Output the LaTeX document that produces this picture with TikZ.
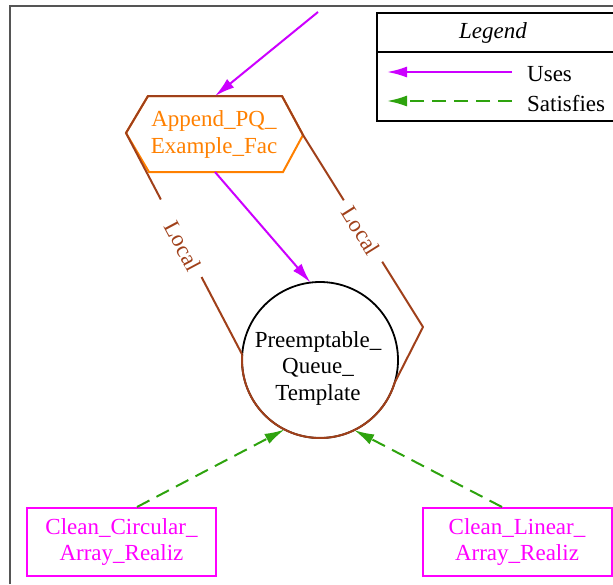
\documentclass[tikz,border=0pt]{standalone}
\usepackage{fontspec}
\setmainfont{Liberation Serif}
\usetikzlibrary{arrows.meta,calc}
\definecolor{usesclr}{HTML}{CC00FF}
\definecolor{satclr}{HTML}{2EA30E}
\definecolor{localclr}{HTML}{A0401A}
\definecolor{facclr}{HTML}{FF8000}
\definecolor{realizclr}{HTML}{FF00FF}
\definecolor{framegray}{HTML}{555555}
\begin{document}
\begin{tikzpicture}[x=1pt,y=-1pt,
  font=\fontsize{23}{26.5}\selectfont,
  lbl/.style={align=center, inner sep=0pt},
  realiz/.style={draw=realizclr, text=realizclr, line width=2pt,
    minimum width=189pt, minimum height=68pt, align=center, inner sep=0pt},
  usesarrow/.style={draw=usesclr, line width=2pt,
    -{Latex[length=20pt,width=11pt]}},
  satarrow/.style={draw=satclr, line width=2pt, dash pattern=on 14pt off 8pt,
    -{Latex[length=20pt,width=11pt]}},
  localline/.style={draw=localclr, line width=2pt, line join=round},
  localtxt/.style={text=localclr, inner sep=0pt}
]
\useasboundingbox (0,0) rectangle (613,584);

% outer frame
\draw[framegray, line width=2.5pt] (10,584) -- (10,6) -- (613,6);

% facility hexagon
\coordinate (hexNW) at (148,96);
\coordinate (hexNE) at (282,96);
\coordinate (hexE)  at (303,135);
\coordinate (hexSE) at (283,172);
\coordinate (hexSW) at (149,172);
\coordinate (hexW)  at (126,133);
\coordinate (apqN)  at (215,96);
\coordinate (apqS)  at (215,172);
\draw[facclr, line width=2pt] (hexNW) -- (hexNE) -- (hexE) -- (hexSE)
  -- (hexSW) -- (hexW) -- cycle;
\node[lbl, text=facclr] (apq) at (214,134.5) {Append\_PQ\_\\Example\_Fac};

% template circle
\node[circle, draw, line width=1.8pt, minimum size=156pt, inner sep=0pt,
  outer sep=0pt] (pq) at (320,360) {};
\node[lbl] (pqtext) at (318,368) {Preemptable\_\\Queue\_\\Template};

% local loop around facility and template
\coordinate (bend) at (423,327);
\draw[localline]
  (pq.176) arc[start angle=176, end angle=343, radius=78pt] -- (bend)
  -- ($(hexE)!0.66!(bend)$);
\draw[localline]
  ($(hexE)!0.34!(bend)$) -- (hexE) -- (hexNE) -- (hexNW) -- (hexW)
  -- ($(hexW)!0.30!(pq.176)$);
\draw[localline]
  ($(hexW)!0.65!(pq.176)$) -- (pq.176);
\node[localtxt, rotate=-62] (loc1) at (183,246) {Local};
\node[localtxt, rotate=-58] (loc2) at (361,231) {Local};

% uses connectors
\coordinate (ext) at (318,12);
\draw[usesarrow] (ext) -- (apqN);
\draw[usesarrow] (apqS) -- (pq.97);

% realizations
\node[realiz] (cca) at (121.5,542) {Clean\_Circular\_\\Array\_Realiz};
\node[realiz] (cla) at (517,542) {Clean\_Linear\_\\Array\_Realiz};
\draw[satarrow] ([xshift=15.5pt]cca.north) -- (pq.243);
\draw[satarrow] ([xshift=-15pt]cla.north) -- (pq.296);

% legend
\draw[line width=1.4pt] (377,13) rectangle (625,121);
\draw[line width=1.4pt] (377,52) -- (625,52);
\node[font=\fontsize{23}{26}\selectfont\itshape] (legtitle) at (493,33) {Legend};
\coordinate (usesA) at (387,72);
\coordinate (usesB) at (512,72);
\draw[usesarrow] (usesB) -- (usesA);
\node[anchor=west, inner sep=0pt] (usestxt) at (527,74) {Uses};
\coordinate (satA) at (387,101);
\coordinate (satB) at (512,101);
\draw[satarrow] (satB) -- (satA);
\node[anchor=west, inner sep=0pt] (sattxt) at (527,104) {Satisfies};
\end{tikzpicture}
\end{document}
